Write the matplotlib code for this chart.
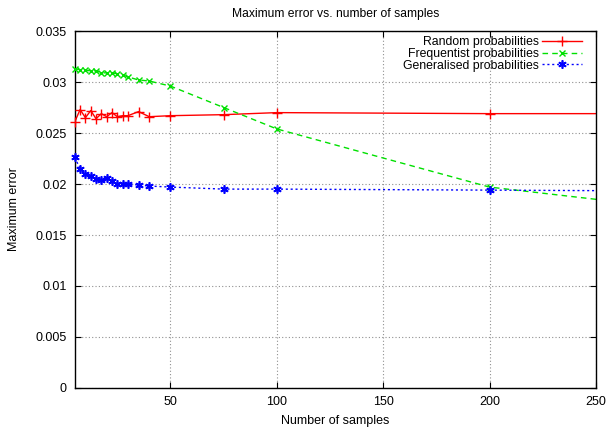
import matplotlib
matplotlib.use("Agg")
import matplotlib.pyplot as plt
from matplotlib.lines import Line2D
import numpy as np

plt.rcParams['font.family'] = ['Liberation Sans', 'DejaVu Sans']

# number of samples (last point lies past the plotted range and is clipped)
samples = [5, 7.5, 10, 12.5, 15, 17.5, 20, 22.5, 25, 27.5, 30, 35, 40, 50, 75, 100, 200, 300]

random_err = [0.0261, 0.0273, 0.0265, 0.0272, 0.0264, 0.0269, 0.0266, 0.0270, 0.0266,
              0.0267, 0.0267, 0.0271, 0.0266, 0.0267, 0.0268, 0.0270, 0.0269, 0.0269]
frequentist_err = [0.0313, 0.0312, 0.03115, 0.0311, 0.0311, 0.0309, 0.0309, 0.0309, 0.0308,
                   0.0307, 0.0305, 0.0302, 0.0301, 0.0296, 0.0275, 0.0254, 0.0197, 0.0173]
generalised_err = [0.0226, 0.0215, 0.0210, 0.0208, 0.0205, 0.0204, 0.0206, 0.0203, 0.0200,
                   0.0200, 0.0200, 0.0199, 0.0198, 0.0197, 0.0195, 0.0195, 0.0194, 0.0193]

labels = ['Random probabilities', 'Frequentist probabilities', 'Generalised probabilities']

xticks = [50, 100, 150, 200, 250]
yticks = [0, 0.005, 0.01, 0.015, 0.02, 0.025, 0.03, 0.035]
ytick_labels = ['0', '0.005', '0.01', '0.015', '0.02', '0.025', '0.03', '0.035']

XMAX = 250

fig = plt.figure(figsize=(6.08, 4.28), dpi=100)
ax = fig.add_axes([0.123, 0.0935, 0.857, 0.834])

styles = [
    dict(color='#ff0000', ls='-', marker='+', ms=7, mew=1),
    dict(color='#00e000', ls=(0, (4, 3)), marker='x', ms=5, mew=1),
    dict(color='#0000ff', ls=(0, (1.5, 2)), marker=(6, 2, 0), ms=6, mew=1.2),
]
series = [random_err, frequentist_err, generalised_err]

handles = []
for vals, st in zip(series, styles):
    # line clipped to the axes, markers drawn unclipped for points inside the range
    ax.plot(samples, vals, color=st['color'], ls=st['ls'], lw=1)
    xs = [x for x in samples if x <= XMAX]
    ax.plot(xs, vals[:len(xs)], ls='none', color=st['color'], marker=st['marker'],
            ms=st['ms'], mew=st['mew'], clip_on=False, zorder=3)
    handles.append(Line2D([], [], color=st['color'], ls=st['ls'], lw=1, marker=st['marker'],
                          ms=st['ms'], mew=st['mew']))

ax.set_xlim(5, XMAX)
ax.set_ylim(0, 0.035)
ax.set_xticks(xticks)
ax.set_yticks(yticks)
ax.set_yticklabels(ytick_labels)
ax.tick_params(direction='in', top=True, right=True, labelsize=9, length=4, width=0.8, pad=6)
ax.grid(True, color='#909090', ls=(0, (1, 2)), lw=0.8)
for s in ax.spines.values():
    s.set_linewidth(1)

ax.set_title('Maximum error vs. number of samples', fontsize=8.7, pad=10)
ax.set_xlabel('Number of samples', fontsize=9, labelpad=5)
ax.set_ylabel('Maximum error', fontsize=9, labelpad=11)

ax.legend(handles, labels, loc='upper right', frameon=False, markerfirst=False, fontsize=8.8,
          handlelength=3.3, labelspacing=-0.02, borderaxespad=0, borderpad=0,
          handletextpad=0.2, bbox_to_anchor=(1 - 14 / 521, 1 - 5 / 357))

fig.savefig('out.png', dpi=100)
